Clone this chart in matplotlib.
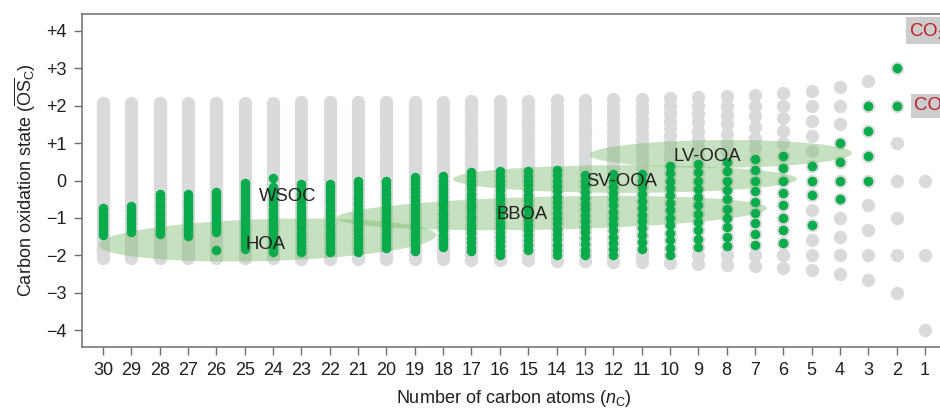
import numpy as np
import matplotlib
matplotlib.use("Agg")
import matplotlib.pyplot as plt
from matplotlib.patches import Polygon

plt.rcParams['font.family'] = ['Liberation Sans', 'DejaVu Sans']
plt.rcParams['mathtext.fontset'] = 'custom'
plt.rcParams['mathtext.rm'] = 'Liberation Sans'
plt.rcParams['mathtext.it'] = 'Liberation Sans:italic'
plt.rcParams['mathtext.bf'] = 'Liberation Sans:bold'
plt.rcParams['axes.unicode_minus'] = True

# ---- data -------------------------------------------------------------
carbon_numbers = list(range(30, 0, -1))

# observed compounds: contiguous OSc ranges per carbon number
obs_range_nc = [30, 29, 28, 27, 26, 25, 24, 23, 22, 21, 20, 19, 18, 17, 16,
                15, 14, 13, 12, 11, 10, 9, 8, 7, 6, 4, 3, 2]
obs_range_lo = [-1.47, -1.38, -1.43, -1.48, -1.38, -1.84, -1.92, -1.91, -1.91,
                -1.90, -1.80, -1.89, -1.78, -1.88, -2.00, -1.87, -2.00, -2.00,
                -2.00, -1.82, -2.00, -1.78, -1.75, -1.71, -1.67, -0.50, 0.00, 2.00]
obs_range_hi = [-0.73, -0.69, -0.36, -0.37, -0.31, -0.08, -0.17, -0.09, -0.09,
                0.00, 0.00, 0.11, 0.11, 0.24, 0.25, 0.27, 0.29, 0.15,
                0.17, 0.18, 0.40, 0.44, 0.50, 0.57, 0.67, 1.00, 2.00, 3.00]

# observed compounds: isolated states
obs_point_nc = [26, 24, 5, 5, 5, 5]
obs_point_os = [-1.85, 0.08, 0.40, 0.00, -0.40, -1.20]

# aerosol source / factor regions
region_names = ["HOA", "BBOA", "SV-OOA", "LV-OOA"]
region_nc = [24.2, 14.16, 11.58, 8.2]
region_os = [-1.59, -0.87, 0.04, 0.71]
region_half_nc = [5.95, 7.59, 6.07, 4.62]
region_half_os = [0.56, 0.44, 0.37, 0.37]
region_tilt = [0.13, 0.13, 0.0, 0.02]

label_names = ["HOA", "WSOC", "BBOA", "SV-OOA", "LV-OOA"]
label_nc = [24.25, 23.47, 15.21, 11.69, 8.69]
label_os = [-1.72, -0.44, -0.90, -0.04, 0.63]

ytick_values = [4, 3, 2, 1, 0, -1, -2, -3, -4]
ytick_labels = ["+4", "+3", "+2", "+1", "0", "\u22121", "\u22122", "\u22123", "\u22124"]

# ---- helpers ----------------------------------------------------------
def possible_states(n):
    k = np.arange(-(n + 1), n + 2)
    return 2.0 * k / n

# ---- figure -----------------------------------------------------------
fig = plt.figure(figsize=(9.4, 4.08), dpi=100)
ax = fig.add_axes([82 / 940, 1 - 347 / 408, (946 - 82) / 940, (347 - 14) / 408])

gray = '#d9dadc'
green = '#0aab4b'
text_dark = '#231f20'

# all possible oxidation states
gx, gy = [], []
for n in carbon_numbers:
    s = possible_states(n)
    gx.extend([n] * len(s))
    gy.extend(s)
ax.scatter(gx, gy, s=92, color=gray, linewidths=0, zorder=1)

# factor regions
t = np.linspace(0, 2 * np.pi, 300)
for xc, yc, a, b, d in zip(region_nc, region_os, region_half_nc,
                           region_half_os, region_tilt):
    px = xc - a * np.cos(t)
    py = yc + b * np.sin(t) + d * np.cos(t)
    ax.add_patch(Polygon(np.column_stack([px, py]), closed=True,
                         facecolor=(120 / 255, 185 / 255, 105 / 255),
                         alpha=0.42, edgecolor='none', zorder=2))

# observed compounds
ox, oy = [], []
for n, lo, hi in zip(obs_range_nc, obs_range_lo, obs_range_hi):
    s = possible_states(n)
    tol = 0.4 * 2.0 / n
    sel = s[(s >= lo - tol) & (s <= hi + tol)]
    ox.extend([n] * len(sel))
    oy.extend(sel)
ox.extend(obs_point_nc)
oy.extend(obs_point_os)
ax.scatter(ox, oy, s=47, color=green, linewidths=0, zorder=3)

for name, xn, yo in zip(label_names, label_nc, label_os):
    ax.text(xn, yo, name, ha='center', va='center', fontsize=13.3,
            color=text_dark, zorder=5)

# single-carbon species
box = dict(boxstyle='square,pad=0.18', facecolor='#cdcdcd', edgecolor='none')
ax.text(1.56, 4.0, r'CO$_2$', ha='left', va='center', fontsize=13.5,
        color='#be1e2d', bbox=box, zorder=5, clip_on=False)
ax.text(1.38, 2.0, 'CO', ha='left', va='center', fontsize=13.5,
        color='#be1e2d', bbox=box, zorder=5, clip_on=False)

# axes styling
ax.set_xlim(30.74, 0.26)
ax.set_ylim(-4.45, 4.45)
ax.set_xticks(carbon_numbers)
ax.set_xticklabels([str(n) for n in carbon_numbers])
ax.set_yticks(ytick_values)
ax.set_yticklabels(ytick_labels)
ax.tick_params(axis='both', direction='out', length=6, width=1.0,
               color='#6d6d6d', labelsize=13, labelcolor=text_dark, pad=5)
for side in ['left', 'bottom', 'top', 'right']:
    ax.spines[side].set_color('#6d6d6d')
    ax.spines[side].set_linewidth(1.1)

ax.set_xlabel(r'Number of carbon atoms ($n_\mathrm{C}$)', fontsize=13,
              color=text_dark, labelpad=6)
ax.set_ylabel(r'Carbon oxidation state ($\overline{\mathrm{OS}}_\mathrm{C}$)',
              fontsize=13, color=text_dark, labelpad=6)

fig.savefig('out.png', dpi=100)
